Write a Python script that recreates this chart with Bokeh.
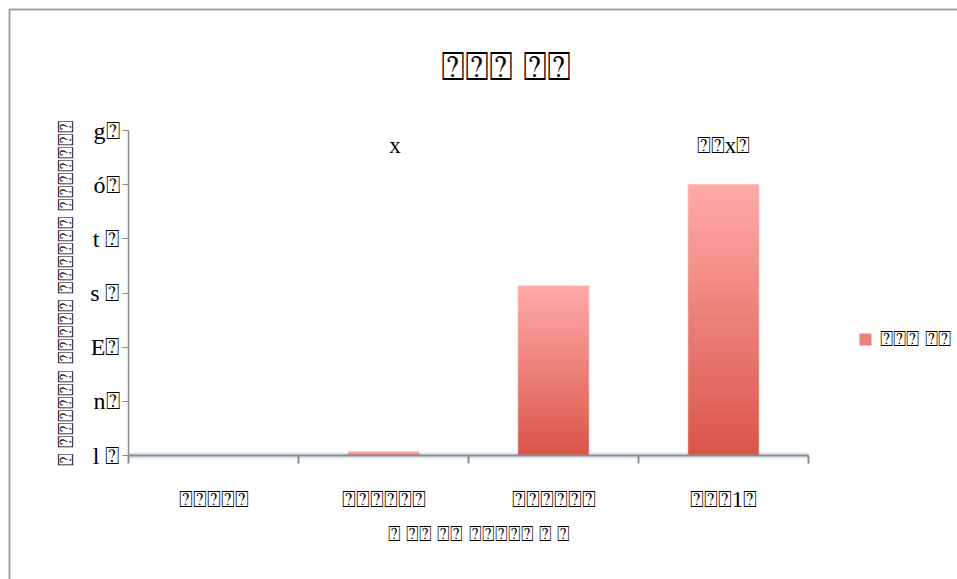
from bokeh.plotting import figure
from bokeh.models import (FixedTicker, Legend, LegendItem, ColumnDataSource,
                          BoxAnnotation, Label)
from bokeh.core.properties import value
from bokeh.embed import file_html
from bokeh.resources import INLINE

B = "\u2370"  # boxed question mark, as the reference shows its undisplayable glyphs

# ---- data ----
categories = [B * 5, B * 6, B * 6, B * 3 + "1" + B]
values = [0.0, 0.06, 3.13, 5.0]
data_labels = ["", "\u2003x", "", B + B + "x" + B]
y_ticks = [0, 1, 2, 3, 4, 5, 6]
y_tick_labels = ["l " + B, "n" + B, "E" + B, "s " + B, "t " + B, "ó" + B, "g" + B]
series_name = B * 3 + " " + B * 2
chart_title = B * 3 + " " + B * 2
x_title = "\u00a0" * 4 + B + " " + B * 2 + " " + B * 2 + " " + B * 5 + " " + B + " " + B
y_title = B + " " + B * 6 + " " + B * 5 + " " + B * 6 + " " + B * 7

FONT = "Liberation Serif"
W, H = 957, 579
# pixel placement of the plot area inside the page
FL, FR, FT, FB = 128, 808, 130, 455
ncat = len(categories)
ymax = y_ticks[-1]
kx = (FR - FL) / ncat
ky = (FB - FT) / ymax
x_range = (-FL / kx, ncat + (W - FR) / kx)
y_range = (-(H - FB) / ky, ymax + FT / ky)

p = figure(width=W, height=H, x_range=x_range, y_range=y_range,
           output_backend="svg", toolbar_location=None,
           min_border=0, min_border_left=0, min_border_right=0,
           min_border_top=0, min_border_bottom=0)
p.title = None
p.xgrid.visible = False
p.ygrid.visible = False
p.outline_line_color = None
p.background_fill_color = "white"
p.border_fill_color = "white"

# chart-area border
p.add_layout(BoxAnnotation(left=9, right=3000, top=9, bottom=3000,
                           left_units="canvas", right_units="canvas",
                           top_units="canvas", bottom_units="canvas",
                           fill_alpha=0, line_color="#a0a0a0", line_alpha=1.0,
                           line_width=2, level="underlay"))

# ---- gradient bars (slices computed from the values) ----
N = 60
top_c = (255, 170, 168)
bot_c = (217, 85, 72)
xs, bots, tops, cols = [], [], [], []
sx, stop = [], []
for i, v in enumerate(values):
    cx = i + 0.5
    sx.append(cx)
    stop.append(v)
    for k in range(N):
        t = (k + 0.5) / N
        c = tuple(int(round(bot_c[j] + (top_c[j] - bot_c[j]) * t)) for j in range(3))
        xs.append(cx)
        bots.append(v * k / N)
        tops.append(v * (k + 1) / N)
        cols.append("#%02x%02x%02x" % c)

shadow = ColumnDataSource(dict(x=sx, top=stop))
p.vbar(x="x", top="top", bottom=0, width=0.43, source=shadow,
       fill_color="#9a9a9a", fill_alpha=0.18, line_color=None)
src = ColumnDataSource(dict(x=xs, bottom=bots, top=tops, color=cols))
bars = p.vbar(x="x", top="top", bottom="bottom", width=0.41, source=src,
              fill_color="color", line_color="color", line_width=0.8)

# axis glow
glow = ColumnDataSource(dict(x=[0, ncat], y=[0, 0]))
p.line(x="x", y="y", source=glow, line_color="#c5d3ea", line_width=6,
       line_alpha=0.6, level="underlay")

# ---- data labels ----
lab = ColumnDataSource(dict(x=[i + 0.5 for i in range(len(values))],
                            y=[ymax * 0.955] * len(values), t=data_labels))
p.text(x="x", y="y", text="t", source=lab, text_align="center",
       text_baseline="middle", text_font=value(FONT), text_font_size="23px",
       text_color="black")

# ---- axes ----
xa = p.xaxis[0]
xa.fixed_location = 0
xa.bounds = (0, ncat)
xa.ticker = FixedTicker(ticks=[i + 0.5 for i in range(ncat)],
                        minor_ticks=list(range(ncat + 1)))
xa.major_label_overrides = {i + 0.5: c for i, c in enumerate(categories)}
xa.major_tick_out = 0
xa.major_tick_in = 0
xa.minor_tick_out = 8
xa.minor_tick_in = 0
xa.minor_tick_line_color = "#8c8c8c"
xa.minor_tick_line_width = 2
xa.axis_line_color = "#8c8c8c"
xa.axis_line_width = 2
xa.major_label_standoff = 23
xa.major_label_text_font = FONT
xa.major_label_text_font_size = "23px"
xa.major_label_text_color = "black"
xa.axis_label = x_title
xa.axis_label_text_font = FONT
xa.axis_label_text_font_size = "21px"
xa.axis_label_text_font_style = "normal"
xa.axis_label_text_color = "black"
xa.axis_label_standoff = 7

ya = p.yaxis[0]
ya.fixed_location = 0
ya.bounds = (0, ymax)
ya.ticker = FixedTicker(ticks=y_ticks, minor_ticks=[])
ya.major_label_overrides = {t: l for t, l in zip(y_ticks, y_tick_labels)}
ya.major_tick_out = 6
ya.major_tick_in = 0
ya.major_tick_line_color = "#8c8c8c"
ya.minor_tick_line_color = None
ya.axis_line_color = "#8c8c8c"
ya.axis_line_width = 1.5
ya.major_label_standoff = 3
ya.major_label_text_font = FONT
ya.major_label_text_font_size = "24px"
ya.major_label_text_color = "black"
ya.axis_label = y_title
ya.axis_label_text_font = FONT
ya.axis_label_text_font_size = "21px"
ya.axis_label_text_font_style = "normal"
ya.axis_label_text_color = "black"
ya.axis_label_standoff = 9

# ---- title ----
p.add_layout(Label(x=(505 - FL) / kx, y=(FB - 66) / ky, text=chart_title,
                   text_align="center", text_baseline="middle",
                   text_font=FONT, text_font_size="40px", text_color="black"))

# ---- legend ----
legend = Legend(items=[LegendItem(label=series_name, renderers=[bars], index=N // 2)],
                location=(858, H - 352), padding=0, margin=0, border_line_color=None,
                background_fill_alpha=0, glyph_width=14, glyph_height=14,
                label_standoff=8, label_text_font=FONT, label_text_font_size="22px",
                label_text_color="black")
p.add_layout(legend, "center")

open("out.html", "w").write(file_html(p, INLINE))
